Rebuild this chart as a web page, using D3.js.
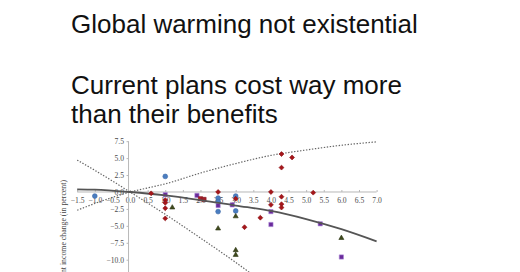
<!DOCTYPE html>
<html><head><meta charset="utf-8">
<script src="https://cdn.jsdelivr.net/npm/d3@7"></script>
<style>html,body{margin:0;padding:0;background:#fff;}svg{display:block;}</style>
</head><body>
<svg id="c" width="520" height="272"></svg>
<script>
const titleLines = ["Global warming not existential", "Current plans cost way more", "than their benefits"];
const xTicks = [-1.5,-1.0,-0.5,0.0,0.5,1.0,1.5,2.0,2.5,3.0,3.5,4.0,4.5,5.0,5.5,6.0,6.5,7.0];
const yTicks = [7.5,5.0,2.5,0.0,-2.5,-5.0,-7.5,-10.0];
const yLabel = "Welfare-equivalent income change (in percent)";

const fitX     = [-1.5,-1.0,0.0,1.0,2.0,3.0,4.0,5.0,6.0,7.0];
const fitY     = [0.4,0.35,0.0,-0.5,-1.2,-2.0,-2.8,-4.0,-5.5,-7.3];
const upperX   = [-1.5,-1.0,-0.5,0.0,0.5,1.0,2.0,3.0,4.0,5.0,6.0,7.0];
const upperY   = [-2.7,-1.7,-0.8,0.0,0.6,1.2,2.8,4.2,5.4,6.2,6.9,7.4];
const lowerX   = [-1.5,-1.0,0.0,1.0,2.0,3.0,3.5,4.0];
const lowerY   = [4.7,3.2,0.0,-3.3,-6.8,-10.4,-12.3,-14.3];

const blueX = [-1.0,1.0,2.5,2.5,2.5,3.0,3.0];
const blueY = [-0.6,2.3,-0.9,-1.4,-2.9,-0.6,-2.8];
const redX  = [0.6,1.0,1.0,1.0,1.0,2.5,3.0,3.25,3.7,4.0,4.0,4.3,4.6,4.3,4.3,4.3,4.3,5.2];
const redY  = [-0.2,-1.2,-1.6,-2.4,-3.9,0.0,-1.0,-5.2,-3.8,0.0,-1.9,5.6,5.1,3.6,-0.7,-1.8,-2.3,-0.1];
const maroonX = [2.0,2.1];
const maroonY = [-1.0,-1.1];
const purpleX = [1.0,1.9,2.5,2.9,4.0,4.0,5.4,6.0];
const purpleY = [-0.4,-0.5,-2.0,-1.9,-2.9,-4.8,-4.7,-9.6];
const oliveX = [1.2,2.5,3.0,3.0,3.0,6.0];
const oliveY = [-2.3,-5.4,-3.6,-8.6,-9.3,-6.8];

const svg = d3.select("#c");
const x = d3.scaleLinear().domain([-1.5,7]).range([77.2,376.6]);
const y = d3.scaleLinear().domain([-10,7.5]).range([259.7,141.2]);

// title
const tg = svg.append("g").attr("font-family","'Liberation Sans', Arial, Helvetica, sans-serif").attr("font-size",26).attr("fill","#111");
const baselines = [33.3, 94.3, 123.3];
titleLines.forEach((t,i)=>tg.append("text").attr("x",71).attr("y",baselines[i]).text(t));

// axes
const axc = "#b8b8b8";
const xa = svg.append("g").attr("transform",`translate(0,${y(0)})`)
  .call(d3.axisBottom(x).tickValues(xTicks).tickSize(2).tickFormat(d3.format(".1f")));
xa.select(".domain").attr("stroke",axc).attr("d",`M${x(-1.5)},0H${x(7)}`);
xa.selectAll(".tick line").attr("stroke",axc).attr("y1",-2).attr("y2",0);
xa.selectAll(".tick text").attr("font-family","'Liberation Serif','Times New Roman',serif").attr("font-size",7.6).attr("fill","#4a4a4a").attr("dy","0.71em").attr("y",6);

const ya = svg.append("g").attr("transform",`translate(${x(0)-1.5},0)`)
  .call(d3.axisLeft(y).tickValues(yTicks).tickSize(2).tickFormat(d3.format(".1f")));
ya.select(".domain").attr("stroke",axc).attr("d",`M0,${y(7.5)}V${y(-16)}`);
ya.selectAll(".tick line").attr("stroke",axc);
ya.selectAll(".tick text").attr("font-family","'Liberation Serif','Times New Roman',serif").attr("font-size",7.6).attr("fill","#4a4a4a").attr("x",-4.5);

svg.append("text").attr("transform",`translate(66,180) rotate(-90)`).attr("text-anchor","end")
  .attr("font-family","'Liberation Serif','Times New Roman',serif").attr("font-size",7.8).attr("fill","#444").text(yLabel);

// lines
const line = d3.line().x(d=>x(d[0])).y(d=>y(d[1])).curve(d3.curveMonotoneX);
const zip = (a,b)=>a.map((v,i)=>[v,b[i]]);
svg.append("path").attr("d",line(zip(upperX,upperY))).attr("fill","none").attr("stroke","#666").attr("stroke-width",1.2).attr("stroke-dasharray","1.4,1.6");
svg.append("path").attr("d",line(zip(lowerX,lowerY))).attr("fill","none").attr("stroke","#666").attr("stroke-width",1.2).attr("stroke-dasharray","1.4,1.6");

// points
function pts(xs,ys,type,fill,stroke,size){
  const sym = d3.symbol().type(type).size(size);
  svg.append("g").selectAll("path").data(zip(xs,ys)).join("path")
    .attr("transform",d=>`translate(${x(d[0])},${y(d[1])})`)
    .attr("d",sym).attr("fill",fill).attr("stroke",stroke).attr("stroke-width",0.6);
}
pts(blueX,blueY,d3.symbolCircle,"#4a7dc0","#3a68a8",18);
pts(purpleX,purpleY,d3.symbolSquare,"#6a2a9a","#a987d6",18);
pts(maroonX,maroonY,d3.symbolSquare,"#a3202a","#8c1a22",18);
pts(oliveX,oliveY,d3.symbolTriangle,"#3f4a1c","#2e3614",11);
svg.append("path").attr("d",line(zip(fitX,fitY))).attr("fill","none").attr("stroke","#555").attr("stroke-width",1.8);
svg.append("g").selectAll("path").data(zip(redX,redY)).join("path")
  .attr("transform",d=>`translate(${x(d[0])},${y(d[1])}) rotate(45)`)
  .attr("d",d3.symbol().type(d3.symbolSquare).size(12)).attr("fill","#a5161a").attr("stroke","#8d1216").attr("stroke-width",0.6);
</script>
</body></html>
